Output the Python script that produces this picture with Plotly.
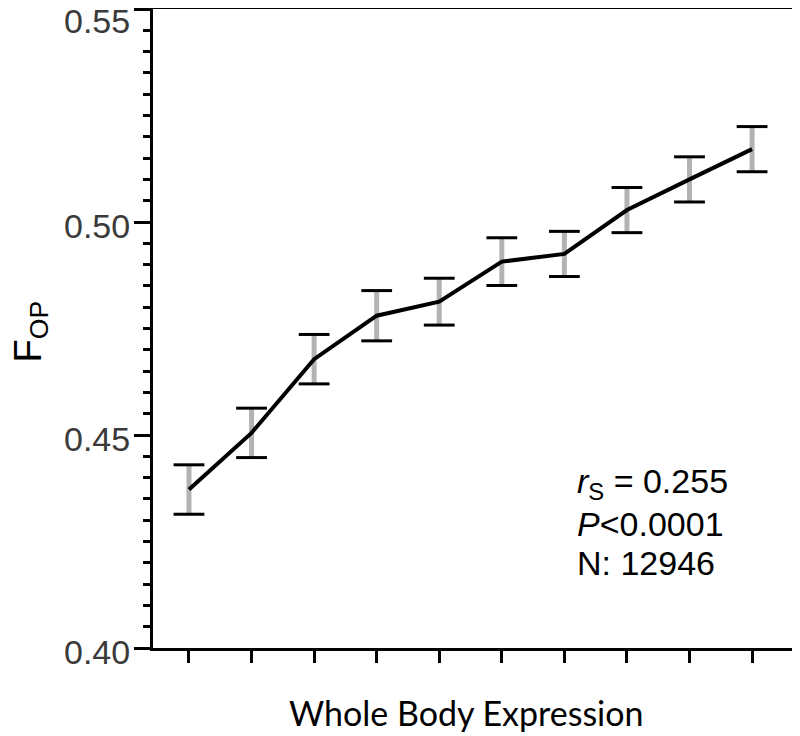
import plotly.graph_objects as go

# expression bins (10 ordered groups, unlabelled on the axis)
bins = [1, 2, 3, 4, 5, 6, 7, 8, 9, 10]
f_op = [0.4372, 0.4505, 0.4678, 0.4780, 0.4813, 0.4907, 0.4925, 0.5028, 0.5100, 0.5171]
f_err = [0.0058, 0.0058, 0.0058, 0.0059, 0.0055, 0.0056, 0.0053, 0.0053, 0.0053, 0.0053]

y_ticks = [0.40, 0.45, 0.50, 0.55]
y_tick_labels = ["0.40", "0.45", "0.50", "0.55"]

stats_lines = ["<i>r</i><sub>S</sub> = 0.255", "<i>P</i><0.0001", "N: 12946"]

ARIAL = "Liberation Sans, Arial, sans-serif"

fig = go.Figure()

# gray error stems
fig.add_trace(go.Scatter(
    x=bins, y=f_op, mode="markers",
    marker=dict(size=1, color="rgba(0,0,0,0)"),
    error_y=dict(type="data", array=f_err, color="#b3b3b3", thickness=5, width=0),
    hoverinfo="skip", showlegend=False,
))

# black caps
caps_y = [v + e for v, e in zip(f_op, f_err)] + [v - e for v, e in zip(f_op, f_err)]
fig.add_trace(go.Scatter(
    x=bins + bins, y=caps_y, mode="markers",
    marker=dict(symbol="line-ew", size=22, line=dict(width=3, color="black")),
    hoverinfo="skip", showlegend=False,
))

# mean line
fig.add_trace(go.Scatter(
    x=bins, y=f_op, mode="lines",
    line=dict(color="black", width=4),
    showlegend=False,
))

# y tick labels (the top one sits lower, inside the figure)
for val, lab in zip(y_ticks, y_tick_labels):
    fig.add_annotation(
        x=0, y=val, xref="paper", yref="y",
        xanchor="right", yanchor="middle", xshift=-21,
        yshift=-12 if val == max(y_ticks) else -4,
        showarrow=False, text=lab,
        font=dict(family=ARIAL, size=34, color="#3a3a3a"),
    )

# axis titles
fig.add_annotation(
    x=0, y=0.5, xref="paper", yref="paper", xanchor="center", yanchor="middle",
    xshift=-123, yshift=-3, textangle=-90, showarrow=False,
    text="F<sub>OP</sub>", font=dict(family=ARIAL, size=38, color="black"),
)
fig.add_annotation(
    x=0.5, y=0, xref="paper", yref="paper", xanchor="center", yanchor="middle",
    xshift=-7, yshift=-64, showarrow=False,
    text="Whole Body Expression",
    font=dict(family="Lato, Open Sans, sans-serif", size=34, color="black"),
)

for i, txt in enumerate(stats_lines):
    fig.add_annotation(
        x=0.658, y=0.257 - i * 0.0623, xref="paper", yref="paper",
        xanchor="left", yanchor="middle", showarrow=False,
        text=txt, font=dict(family=ARIAL, size=34, color="black"),
    )

# page body keeps an 8px margin, so the figure is a bit smaller than the window
fig.update_layout(
    width=792, height=728,
    margin=dict(l=145, r=6, t=1, b=88),
    plot_bgcolor="white", paper_bgcolor="white",
    font=dict(family=ARIAL, color="black"),
)

fig.update_xaxes(
    range=[0.425, 10.67], automargin=False,
    tickmode="array", tickvals=bins, showticklabels=False,
    ticks="outside", ticklen=12, tickwidth=2.5, tickcolor="black",
    showline=True, linewidth=3, linecolor="black", mirror=True,
    showgrid=False, zeroline=False,
)

fig.update_yaxes(
    range=[0.40, 0.55], automargin=False,
    tickmode="array", tickvals=y_ticks, showticklabels=False,
    ticks="outside", ticklen=16, tickwidth=2.5, tickcolor="black",
    minor=dict(dtick=0.005, ticks="outside", ticklen=7, tickwidth=2.5, tickcolor="black"),
    showline=True, linewidth=3, linecolor="black", mirror=True,
    showgrid=False, zeroline=False,
)

fig.write_html("out.html")
